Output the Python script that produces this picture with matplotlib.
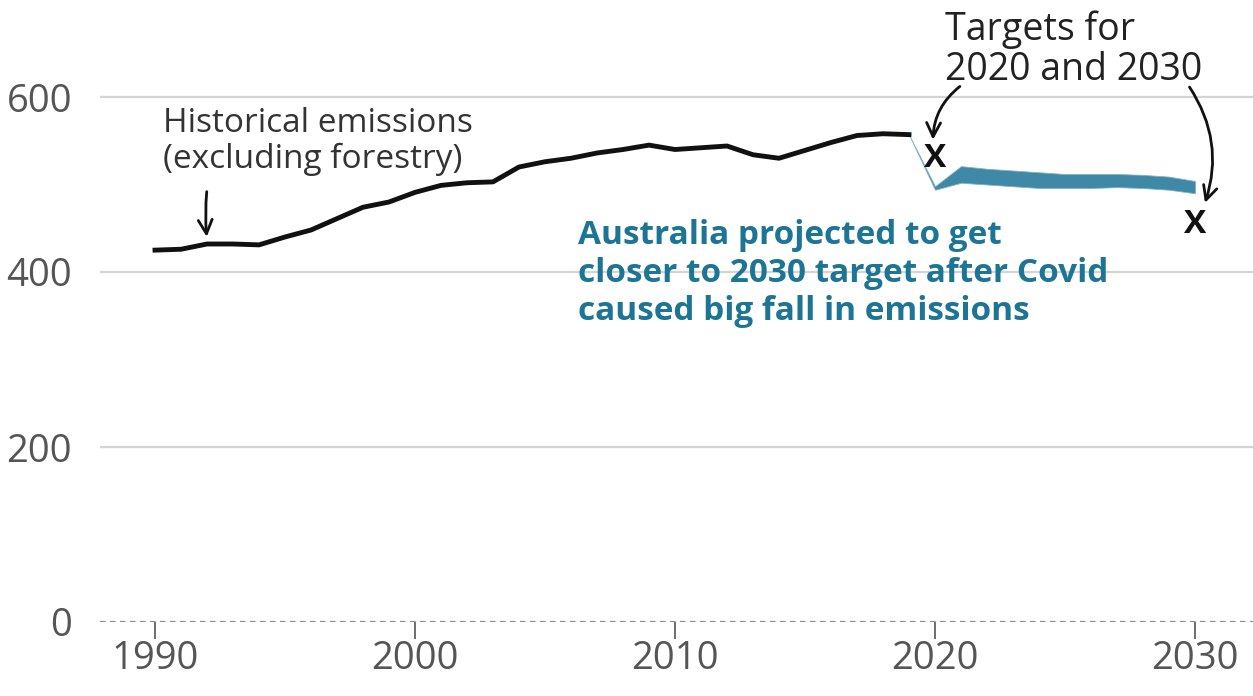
import matplotlib.pyplot as plt

plt.rcParams['font.family'] = ['Open Sans', 'DejaVu Sans']

# historical emissions (excluding forestry), Mt CO2-e
hist_years = list(range(1990, 2020))
hist_values = [425, 426, 432, 432, 431, 440, 448, 461, 474, 480,
               491, 499, 502, 503, 520, 526, 530, 536, 540, 545,
               540, 542, 544, 534, 530, 539, 548, 556, 558, 557]

# projection band, low and high bounds
proj_years = list(range(2019, 2031))
proj_low = [557, 494, 502, 500, 498, 496, 496, 496, 497, 496, 494, 490]
proj_high = [557, 498, 521, 518, 516, 514, 512, 512, 512, 511, 509, 504]

# targets
target_years = [2020, 2030]
target_values = [530, 454]

ytick_values = [0, 200, 400, 600]
xtick_values = [1990, 2000, 2010, 2020, 2030]

fig = plt.figure(figsize=(12.53, 6.96), dpi=100)
ax = fig.add_axes([100 / 1253, 74 / 696, 1153 / 1253, 622 / 696])

ax.set_xlim(1990 - 55 / 26, 1990 + 1098 / 26)
ax.set_ylim(0, 622 / 0.875)

for v in ytick_values[1:]:
    ax.axhline(v, color='#d4d4d4', lw=1.6, zorder=0)
ax.axhline(0, color='#8c8c8c', lw=1.6, ls=(0, (2.5, 2)), zorder=1)

for s in ax.spines.values():
    s.set_visible(False)

ax.set_yticks(ytick_values)
ax.set_xticks(xtick_values)
ax.tick_params(axis='y', length=0, pad=20, labelsize=27.5, labelcolor='#555555')
ax.tick_params(axis='x', length=12, width=1.2, color='#555555', pad=1,
               labelsize=27.5, labelcolor='#555555')

ax.fill_between(proj_years, proj_low, proj_high, color='#3f88a6', lw=0.6,
                edgecolor='#7fb3c8', zorder=2)
ax.plot(hist_years, hist_values, color='#111111', lw=3.5, zorder=3,
        solid_joinstyle='round')

for yr, v in zip(target_years, target_values):
    ax.text(yr, v, 'X', ha='center', va='center', fontsize=24,
            fontweight='bold', color='#111111', zorder=4)

ax.text(1990.31, 588, 'Historical emissions\n(excluding forestry)',
        fontsize=24, color='#333333', va='top', ha='left', linespacing=1.08)
ax.annotate('', xy=(1992.0, 437), xytext=(1992.0, 495),
            arrowprops=dict(arrowstyle='->', lw=2, color='#111111',
                            connectionstyle='arc3,rad=0.05',
                            mutation_scale=25))

ax.text(2020.38, 699, 'Targets for\n2020 and 2030', fontsize=27,
        color='#222222', va='top', ha='left', linespacing=1.07)
ax.annotate('', xy=(2019.92, 548), xytext=(2021.04, 614),
            arrowprops=dict(arrowstyle='->', lw=2, color='#111111',
                            connectionstyle='arc3,rad=0.25',
                            mutation_scale=25))
ax.annotate('', xy=(2030.35, 476), xytext=(2029.73, 614),
            arrowprops=dict(arrowstyle='->', lw=2, color='#111111',
                            connectionstyle='arc3,rad=-0.25',
                            mutation_scale=25))

ax.text(2006.27, 460.5, 'Australia projected to get\n'
        'closer to 2030 target after Covid\ncaused big fall in emissions',
        fontsize=24, fontweight='bold', color='#1d7596', va='top',
        ha='left', linespacing=1.2)

fig.savefig('out.png', dpi=100)
